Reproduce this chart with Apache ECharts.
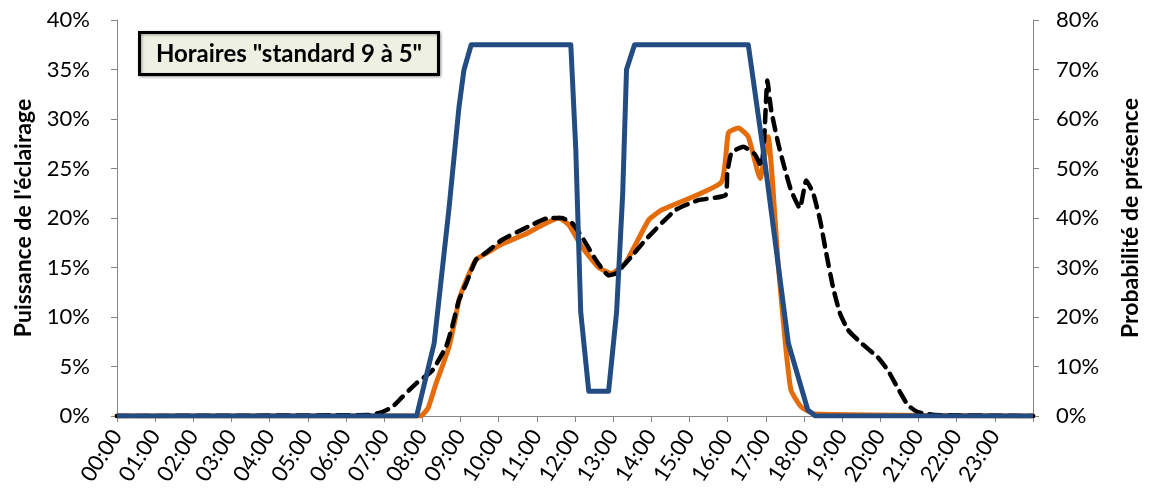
<!DOCTYPE html>
<html>
<head>
<meta charset="utf-8">
<script src="https://cdn.jsdelivr.net/npm/echarts@6/dist/echarts.min.js"></script>
<style>
html,body{margin:0;padding:0;background:#fff;}
#chart{width:1150px;height:501px;}
</style>
</head>
<body>
<div id="chart"></div>
<script>
// Hours (0-24) and values (%)
var hourTicks = [0,1,2,3,4,5,6,7,8,9,10,11,12,13,14,15,16,17,18,19,20,21,22,23];
var leftTicks = [0,5,10,15,20,25,30,35,40];
var rightTicks = [0,10,20,30,40,50,60,70,80];

// Puissance de l'éclairage (orange, left axis)
var orangeT = [0,7.95,8.15,8.36,8.55,8.70,8.85,8.96,9.15,9.41,9.75,10.1,10.66,11.58,11.84,12.18,12.62,12.96,13.33,13.93,14.27,15.83,16.02,16.28,16.54,16.85,17.06,17.32,17.51,17.66,17.93,18.29,24];
var orangeV = [0,0,0.8,3.3,5.3,7.0,9.6,11.7,13.7,15.8,16.6,17.4,18.3,20.0,19.3,17.1,15.0,14.4,15.5,19.8,20.8,23.6,28.6,29.1,28.2,24.0,28.2,15.5,7.4,2.6,0.9,0.2,0];

// Puissance mesurée (black dashed, left axis)
var blackT = [0,6.6,6.95,7.21,7.47,7.84,8.26,8.62,8.78,8.96,9.15,9.41,9.67,10.09,10.71,11.31,11.65,11.92,12.18,12.54,12.88,13.07,13.48,13.85,14.63,15.23,15.94,15.99,16.1,16.41,16.72,16.88,16.96,17.04,17.14,17.32,17.48,17.66,17.89,18.06,18.24,18.42,18.58,18.76,18.94,19.15,19.49,19.94,20.2,20.46,20.72,20.98,21.43,24];
var blackV = [0,0.1,0.4,0.9,1.9,3.3,4.6,7.0,9.0,11.7,13.4,15.8,16.5,17.8,19.0,20.0,20.0,19.5,18.1,15.8,14.2,14.4,16.1,17.8,20.8,21.8,22.3,24.5,26.6,27.2,26.4,25.2,28.2,33.9,30.9,27.6,25.2,22.8,21.0,23.8,22.5,19.8,16.5,13.0,10.4,8.7,7.4,5.9,4.6,2.8,1.1,0.4,0.1,0];

// Probabilité de présence (blue, right axis)
var blueT = [0,7.85,8.31,8.70,8.96,9.09,9.28,11.89,12.02,12.15,12.36,12.88,13.09,13.25,13.35,13.56,16.54,16.98,17.59,18.1,18.3,24];
var blueV = [0,0,14.7,42,62.4,69.9,75,75,54,21,5,5,21,45,70,75,75,51,14.7,1.2,0,0];

var titleText = 'Horaires "standard 9 à 5"';
var leftName = "Puissance de l'éclairage";
var rightName = 'Probabilité de présence';

function pairs(t, v){ return t.map(function(x,i){ return [x, v[i]]; }); }
function hh(v){ return (v < 10 ? '0' : '') + v + ':00'; }

var FONT = 'Lato';
var axisGrey = '#868686';

var chart = echarts.init(document.getElementById('chart'), null, {renderer:'canvas'});
chart.setOption({
  backgroundColor: '#ffffff',
  animation: false,
  textStyle: {fontFamily: FONT},
  grid: {left: 117, right: 115, top: 20, bottom: 85, containLabel: false},
  xAxis: {
    type: 'value', min: 0, max: 24, interval: 1,
    axisLine: {lineStyle: {color: axisGrey, width: 1}},
    axisTick: {show: true, length: 6, lineStyle: {color: axisGrey}},
    splitLine: {show: false},
    axisLabel: {
      rotate: 57, fontSize: 22, color: '#000', fontFamily: FONT, margin: 16,
      formatter: function(v){ return hourTicks.indexOf(v) >= 0 ? hh(v) : ''; }
    }
  },
  yAxis: [{
    type: 'value', min: 0, max: 40, interval: 5, position: 'left',
    name: leftName, nameLocation: 'middle', nameRotate: 90, nameGap: 82,
    nameTextStyle: {fontSize: 23, fontWeight: 'bold', color: '#000', fontFamily: FONT},
    axisLine: {show: true, lineStyle: {color: axisGrey}},
    axisTick: {show: true, length: 6, lineStyle: {color: axisGrey}},
    splitLine: {show: false},
    axisLabel: {fontSize: 22, color: '#000', margin: 27, fontFamily: FONT,
      formatter: function(v){ return leftTicks.indexOf(v) >= 0 ? v + '%' : ''; }}
  },{
    type: 'value', min: 0, max: 80, interval: 10, position: 'right',
    name: rightName, nameLocation: 'middle', nameRotate: 90, nameGap: 86,
    nameTextStyle: {fontSize: 23, fontWeight: 'bold', color: '#000', fontFamily: FONT},
    axisLine: {show: true, lineStyle: {color: axisGrey}},
    axisTick: {show: true, length: 6, lineStyle: {color: axisGrey}},
    splitLine: {show: false},
    axisLabel: {fontSize: 22, color: '#000', margin: 23, fontFamily: FONT,
      formatter: function(v){ return rightTicks.indexOf(v) >= 0 ? v + '%' : ''; }}
  }],
  graphic: [{
    type: 'group', left: 138, top: 31, z: 100,
    children: [{
      type: 'rect', shape: {x: 0, y: 0, width: 299, height: 42},
      style: {fill: '#EEF0E2', stroke: '#000', lineWidth: 3,
              shadowBlur: 3, shadowOffsetX: 1, shadowOffsetY: 1, shadowColor: 'rgba(0,0,0,0.35)'}
    },{
      type: 'text', x: 149.5, y: 22,
      style: {text: titleText, fill: '#000', font: 'bold 24px Lato', align: 'center', verticalAlign: 'middle'}
    }]
  }],
  series: [{
    name: 'orange', type: 'line', yAxisIndex: 0, data: pairs(orangeT, orangeV),
    showSymbol: false, smooth: 0.15, z: 2,
    lineStyle: {color: '#E46C0A', width: 5, cap: 'round', join: 'round'}
  },{
    name: 'black', type: 'line', yAxisIndex: 0, data: pairs(blackT, blackV),
    showSymbol: false, smooth: 0.15, z: 3,
    lineStyle: {color: '#000', width: 4.5, type: [12, 8], cap: 'round', join: 'round'}
  },{
    name: 'blue', type: 'line', yAxisIndex: 1, data: pairs(blueT, blueV),
    showSymbol: false, smooth: false, z: 4,
    lineStyle: {color: '#224C82', width: 5, join: 'round'}
  }]
});
</script>
</body>
</html>
